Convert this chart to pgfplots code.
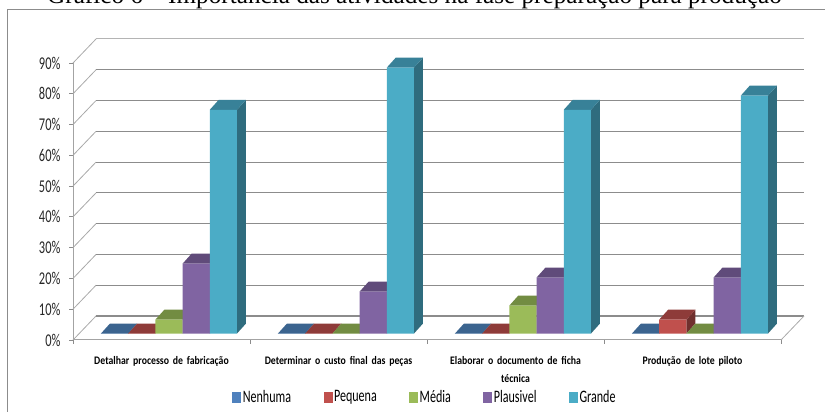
\documentclass[border=0pt]{standalone}
\usepackage{pgfplots}
\usepackage{pgfplotstable}
\usepackage{fontspec}
\pgfplotsset{compat=1.18}
\setmainfont{Liberation Serif}
\newfontfamily\chartfont[FakeStretch=0.85]{Carlito}
\newfontfamily\narrowfont[FakeStretch=0.69]{Carlito}

\definecolor{front0}{HTML}{4F81BD}\definecolor{top0}{HTML}{3B648F}\definecolor{side0}{HTML}{2F5077}
\definecolor{front1}{HTML}{C0504D}\definecolor{top1}{HTML}{8E3B39}\definecolor{side1}{HTML}{70302E}
\definecolor{front2}{HTML}{9BBB59}\definecolor{top2}{HTML}{728C42}\definecolor{side2}{HTML}{5C7035}
\definecolor{front3}{HTML}{8064A2}\definecolor{top3}{HTML}{604B7A}\definecolor{side3}{HTML}{4D3C62}
\definecolor{front4}{HTML}{4BACC6}\definecolor{top4}{HTML}{388198}\definecolor{side4}{HTML}{2F6C7E}
\definecolor{gridc}{HTML}{8C8C8C}

% percent of answers, one row per activity
\pgfplotstableread{
Nenhuma Pequena Media Plausivel Grande
0 0 4.5 22.7 72.7
0 0 0 13.6 86.4
0 0 9.1 18.2 72.7
0 4.5 0 18.2 77.3
}\bartable

% one bar: #1 category, #2 series; value comes from \bartable
\newcommand{\threedbar}[2]{%
  \pgfplotstablegetelem{#1}{[index]#2}\of\bartable
  \pgfmathsetmacro{\xa}{#1+0.158+#2*0.1537}
  \pgfmathsetmacro{\xb}{\xa+0.1537}
  \pgfmathsetmacro{\xc}{\xb+0.0508}
  \pgfmathsetmacro{\xd}{\xa+0.0508}
  \pgfmathsetmacro{\ya}{2.1}
  \pgfmathsetmacro{\yb}{2.1+\pgfplotsretval}
  \pgfmathsetmacro{\yc}{\yb+3.25}
  \pgfmathsetmacro{\yd}{\ya+3.25}
  \addplot[fill=side#2,draw=none,forget plot] coordinates {(\xb,\ya) (\xc,\yd) (\xc,\yc) (\xb,\yb) (\xb,\ya)};
  \addplot[fill=top#2,draw=none,forget plot] coordinates {(\xa,\yb) (\xb,\yb) (\xc,\yc) (\xd,\yc) (\xa,\yb)};
  \addplot[fill=front#2,draw=none,forget plot] coordinates {(\xa,\ya) (\xb,\ya) (\xb,\yb) (\xa,\yb) (\xa,\ya)};
}

\begin{document}
\begin{tikzpicture}[x=1pt,y=1pt]
\path[use as bounding box] (0,0) rectangle (825,412);
\draw[gridc,line width=0.9pt] (7,0) -- (7,403) -- (825,403);
\node[font=\fontsize{25.2}{25.2}\selectfont,anchor=base,inner sep=0pt] at (414.5,408) {Gráfico 6 -- Importância das atividades na fase preparação para produção};
\begin{axis}[
    at={(73pt,72pt)}, anchor=south west,
    scale only axis, width=708pt, height=277pt,
    xmin=0, xmax=4, ymin=0, ymax=90,
    clip=false,
    axis y line*=left, axis x line*=bottom,
    axis line style={gridc!80,line width=1pt},
    tick style={gridc,line width=0.9pt},
    tick align=outside,
    major tick length=4pt,
    ytick={0,10,...,90},
    yticklabels={0\%,10\%,20\%,30\%,40\%,50\%,60\%,70\%,80\%,90\%},
    yticklabel style={font=\narrowfont\fontsize{18}{18}\selectfont,color=black!85,xshift=-5pt},
    xtick={0,1,2,3,4},
    x tick label as interval=true,
    xticklabels={Detalhar processo de fabricação,Determinar o custo final das peças,{Elaborar o documento de ficha\\técnica},Produção de lote piloto},
    xticklabel style={font=\chartfont\bfseries\fontsize{11.5}{18}\selectfont,text width=160pt,align=center,anchor=north,yshift=-9pt},
    legend style={at={(352pt,-57pt)},anchor=center,draw=none,fill=none,legend columns=5,
      font=\narrowfont\fontsize{17.5}{17.5}\selectfont,
      /tikz/every even column/.style={column sep=30.5pt}},
    legend cell align=left,
    legend image code/.code={\fill[#1] (0pt,-5pt) rectangle (8pt,5pt);},
]
% walls and floor, offset to the back plane
\pgfplotsinvokeforeach{0,10,...,80}{
  \pgfmathsetmacro{\yback}{#1+7.8}
  \addplot[gridc!75,line width=0.8pt,forget plot] coordinates {(0,#1) (0.13,\yback)};
  \addplot[gridc,line width=1.1pt,forget plot] coordinates {(0.13,\yback) (4.13,\yback)};
}
\addplot[gridc!75,line width=0.8pt,forget plot] coordinates {(0,90) (0.13,97.8)};
\addplot[gridc!65,line width=1pt,forget plot] coordinates {(0.13,97.8) (4.13,97.8)};
\addplot[gridc!75,line width=0.8pt,forget plot] coordinates {(4,0) (4.13,7.8)};

\pgfplotsinvokeforeach{0,1,2,3}{
  \threedbar{#1}{0}
  \threedbar{#1}{1}
  \threedbar{#1}{2}
  \threedbar{#1}{3}
  \threedbar{#1}{4}
}

\addlegendimage{front0}\addlegendentry{Nenhuma}
\addlegendimage{front1}\addlegendentry{Pequena}
\addlegendimage{front2}\addlegendentry{Média}
\addlegendimage{front3}\addlegendentry{Plausivel}
\addlegendimage{front4}\addlegendentry{Grande}
\end{axis}
\end{tikzpicture}
\end{document}
